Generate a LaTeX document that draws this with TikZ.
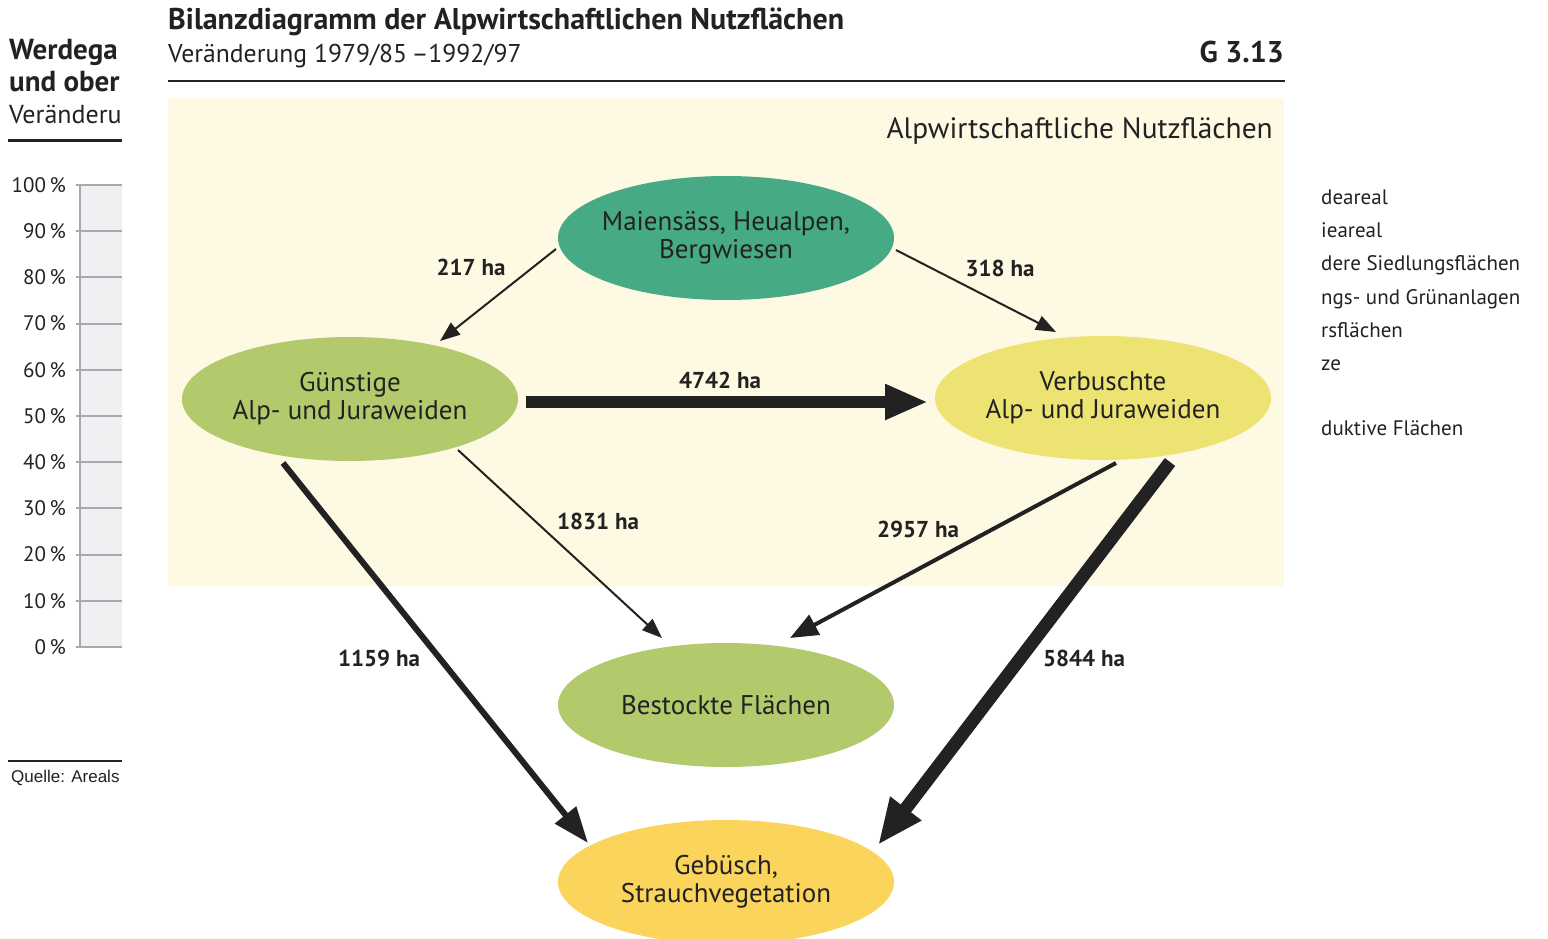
\documentclass[tikz,border=0pt]{standalone}
\usepackage{fontspec}
\setmainfont{PT Sans}
\newfontfamily\arialf{Liberation Sans}
\usetikzlibrary{shapes.geometric,arrows.meta,calc}
\definecolor{cream}{HTML}{FDF9E3}
\definecolor{teal}{HTML}{46AB85}
\definecolor{lgreen}{HTML}{B2CA6B}
\definecolor{yel}{HTML}{EDE373}
\definecolor{gold}{HTML}{FBD45B}
\definecolor{ink}{HTML}{222222}
\definecolor{panelgray}{HTML}{F0F0F3}
\definecolor{gridgray}{HTML}{A8A8B0}
\tikzset{
  ell/.style={ellipse, minimum width=336pt, minimum height=124pt, inner xsep=-20pt, inner ysep=0pt, align=center,
    text=ink, font=\fontsize{27pt}{28pt}\selectfont},
  lbl/.style={text=ink, inner sep=0pt, font=\bfseries\fontsize{23pt}{24pt}\selectfont},
  txt/.style={text=ink, inner sep=0pt},
  arrA/.style={ink, line width=2pt, -{Triangle[length=20pt,width=15pt]}},
  arrB/.style={ink, line width=4pt, -{Triangle[length=28pt,width=22pt]}},
  arrC/.style={ink, line width=6pt, -{Triangle[length=36pt,width=26pt]}},
  arrD/.style={ink, line width=12pt, -{Triangle[length=43pt,width=33pt]}},
  arrE/.style={ink, line width=13pt, -{Triangle[length=46pt,width=36pt]}},
}
\begin{document}
\begin{tikzpicture}[x=1pt,y=-1pt]
\useasboundingbox (0,0) rectangle (1548,939);
\fill[white] (0,0) rectangle (1548,939);

% ---- left (clipped) panel ----
\begin{scope}
\clip (0,0) rectangle (122,939);
\node[txt, anchor=base west, font=\bfseries\fontsize{29pt}{30pt}\selectfont] (lt1) at (9,60) {Werdega};
\node[txt, anchor=base west, font=\bfseries\fontsize{29pt}{30pt}\selectfont] (lt2) at (9,92) {und ober};
\node[txt, anchor=base west, font=\fontsize{26pt}{28pt}\selectfont] (lt3) at (9,124) {Veränderu};
\draw[ink, line width=3pt] (8,141) -- (122,141);
\fill[panelgray] (80,185) rectangle (122,647);
\foreach \i/\p in {0/0,1/10,2/20,3/30,4/40,5/50,6/60,7/70,8/80,9/90,10/100}{
  \draw[gridgray, line width=2pt] (76,647-\i*46.2) -- (122,647-\i*46.2);
  \node[txt, anchor=east, font=\fontsize{21pt}{22pt}\selectfont] (pc\i) at (66,647-\i*46.2) {\p\,\%};
}
\draw[gridgray, line width=2pt] (80,185) -- (80,648);
\draw[ink, line width=2.5pt] (8,761) -- (122,761);
\node[txt, anchor=base west, font=\arialf\fontsize{17pt}{18pt}\selectfont] (src) at (11,782) {Quelle: Areals};
\end{scope}

% ---- right (clipped) legend ----
\begin{scope}
\clip (1321,150) rectangle (1548,460);
\foreach \t/\y [count=\k] in {deareal/202, ieareal/235, dere Siedlungsflächen/268, ngs- und Grünanlagen/302, rsflächen/335, ze/368, duktive Flächen/433}{
  \node[txt, anchor=mid west, font=\fontsize{21pt}{22pt}\selectfont] (leg\k) at (1321,\y) {\t};
}
\end{scope}

% ---- header ----
\node[txt, anchor=base west, font=\bfseries\fontsize{30pt}{30pt}\selectfont] (title) at (168,30) {Bilanzdiagramm der Alpwirtschaftlichen Nutzflächen};
\node[txt, anchor=base west, font=\fontsize{25.7pt}{28pt}\selectfont] (sub) at (168,63) {Veränderung 1979/85\,–1992/97};
\node[txt, anchor=base east, font=\bfseries\fontsize{30pt}{30pt}\selectfont] (gnum) at (1284,63) {G 3.13};
\draw[ink, line width=2pt] (168,81) -- (1285,81);

% ---- cream area ----
\fill[cream] (168,98) rectangle (1284,586);
\node[txt, anchor=base east, font=\fontsize{29.4pt}{30pt}\selectfont] (area) at (1273,139) {Alpwirtschaftliche Nutzflächen};

% ---- nodes ----
\node[ell, fill=teal] (m) at (726,238) {Maiensäss, Heualpen,\\Bergwiesen};
\node[ell, fill=lgreen] (g) at (350,399) {Günstige\\Alp- und Juraweiden};
\node[ell, fill=yel] (v) at (1103,398) {Verbuschte\\Alp- und Juraweiden};
\node[ell, fill=lgreen] (b) at (726,705) {Bestockte Flächen};
\node[ell, fill=gold] (s) at (726,882) {Gebüsch,\\Strauchvegetation};

% ---- connectors ----
\draw[arrA] ($(m)+(-170,11)$) -- ($(g)+(90,-58)$);
\draw[arrA] ($(m)+(170,12)$) -- ($(v)+(-47,-66)$);
\draw[arrD] ($(g)+(176,3)$) -- ($(v)+(-175,4)$);
\draw[arrA] ($(g)+(108,51)$) -- ($(b)+(-64,-67)$);
\draw[arrB] ($(v)+(13,65)$) -- ($(b)+(64,-67)$);
\draw[arrC] ($(g)+(-67,64)$) -- ($(s)+(-138,-39)$);
\draw[arrE] ($(v)+(67,64)$) -- ($(s)+(152,-37)$);

% ---- labels ----
\node[lbl] (l217) at (471,267) {217 ha};
\node[lbl] (l318) at (1000,268) {318 ha};
\node[lbl] (l4742) at (720,380) {4742 ha};
\node[lbl] (l1831) at (598,521) {1831 ha};
\node[lbl] (l2957) at (918,529) {2957 ha};
\node[lbl] (l1159) at (379,658) {1159 ha};
\node[lbl] (l5844) at (1084,658) {5844 ha};
\end{tikzpicture}
\end{document}
